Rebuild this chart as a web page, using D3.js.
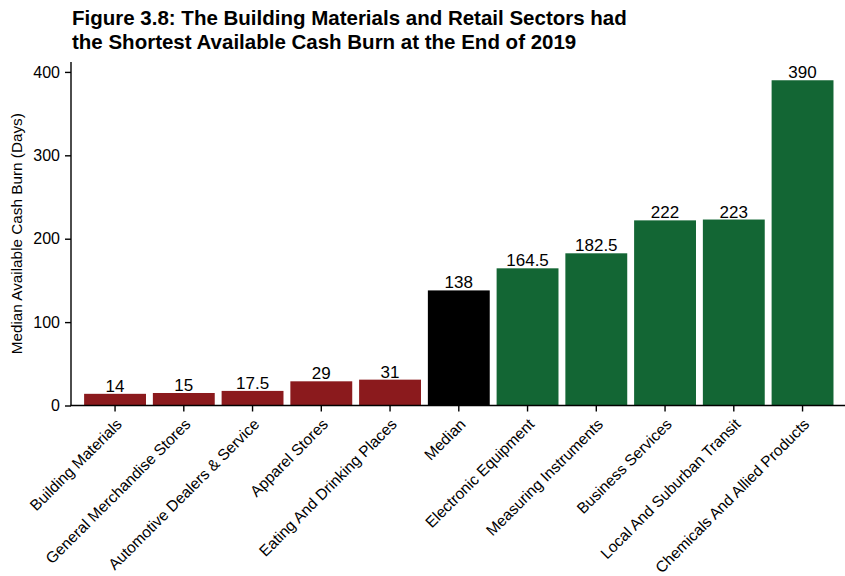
<!DOCTYPE html>
<html>
<head>
<meta charset="utf-8">
<script src="https://cdn.jsdelivr.net/npm/d3@7"></script>
<style>
  html, body { margin: 0; padding: 0; background: #fff; }
  svg { display: block; font-family: "Liberation Sans", Arial, Helvetica, sans-serif; }
</style>
</head>
<body>
<svg id="chart" width="845" height="576"></svg>
<script>
const titleLines = [
  "Figure 3.8: The Building Materials and Retail Sectors had",
  "the Shortest Available Cash Burn at the End of 2019"
];
const yAxisTitle = "Median Available Cash Burn (Days)";
const categories = [
  "Building Materials", "General Merchandise Stores", "Automotive Dealers & Service",
  "Apparel Stores", "Eating And Drinking Places", "Median", "Electronic Equipment",
  "Measuring Instruments", "Business Services", "Local And Suburban Transit",
  "Chemicals And Allied Products"
];
const values = [14, 15, 17.5, 29, 31, 138, 164.5, 182.5, 222, 223, 390];
const groups = ["short", "short", "short", "short", "short", "median", "long", "long", "long", "long", "long"];
const groupNames = ["short", "median", "long"];
const groupColors = ["#8b1a1d", "#000000", "#136634"];
const yTicks = [0, 100, 200, 300, 400];

const data = categories.map((c, i) => ({ cat: c, value: values[i], group: groups[i] }));

const svg = d3.select("#chart");
const axisX0 = 71, axisRight = 845;
const yBottom = 405.5;

const x = d3.scaleBand()
  .domain(categories)
  .range([73.8, 843.8])
  .paddingInner(0.1)
  .paddingOuter(0.15);

const y = d3.scaleLinear()
  .domain([0, 390 * 1.05])
  .range([yBottom, 64]);

const color = d3.scaleOrdinal().domain(groupNames).range(groupColors);

// Title
svg.append("g").selectAll("text")
  .data(titleLines)
  .join("text")
  .attr("x", 72)
  .attr("y", (d, i) => 25 + i * 24)
  .attr("font-size", "20.5px")
  .attr("font-weight", "bold")
  .attr("fill", "#000")
  .text(d => d);

// Bars
svg.append("g").selectAll("rect")
  .data(data)
  .join("rect")
  .attr("x", d => x(d.cat))
  .attr("width", x.bandwidth())
  .attr("y", d => y(d.value))
  .attr("height", d => y(0) - y(d.value))
  .attr("fill", d => color(d.group));

// Value labels
svg.append("g").selectAll("text")
  .data(data)
  .join("text")
  .attr("x", d => x(d.cat) + x.bandwidth() / 2)
  .attr("y", d => y(d.value) - 2)
  .attr("text-anchor", "middle")
  .attr("font-size", "17px")
  .attr("fill", "#000")
  .text(d => String(d.value));

// Y axis
const yAxis = d3.axisLeft(y).tickValues(yTicks).tickSize(6).tickPadding(5).tickSizeOuter(0);
const gy = svg.append("g").attr("transform", `translate(${axisX0},0)`).call(yAxis);
gy.select(".domain").remove();
gy.append("line").attr("x1", 0).attr("x2", 0).attr("y1", 62).attr("y2", yBottom)
  .attr("stroke", "#000").attr("stroke-width", 1.4);
gy.selectAll(".tick line").attr("stroke", "#000").attr("stroke-width", 1.4);
gy.selectAll(".tick text").attr("font-size", "16px").attr("fill", "#000")
  .attr("font-family", "Liberation Sans, Arial, sans-serif");

// X axis
const xAxis = d3.axisBottom(x).tickSize(6).tickSizeOuter(0).tickFormat("");
const gx = svg.append("g").attr("transform", `translate(0,${yBottom})`).call(xAxis);
gx.select(".domain").remove();
gx.append("line").attr("x1", axisX0 - 0.7).attr("x2", axisRight).attr("y1", 0).attr("y2", 0)
  .attr("stroke", "#000").attr("stroke-width", 1.4);
gx.selectAll(".tick line").attr("stroke", "#000").attr("stroke-width", 1.4);

// X labels rotated
svg.append("g").selectAll("text")
  .data(categories)
  .join("text")
  .attr("transform", d => `translate(${x(d) + x.bandwidth() / 2},${yBottom + 12}) rotate(-45)`)
  .attr("x", 0)
  .attr("y", 11)
  .attr("text-anchor", "end")
  .attr("font-size", "15.5px")
  .attr("fill", "#000")
  .text(d => d);

// Y axis title
svg.append("text")
  .attr("transform", `translate(22,${(62 + yBottom) / 2}) rotate(-90)`)
  .attr("text-anchor", "middle")
  .attr("font-size", "15.3px")
  .attr("fill", "#000")
  .text(yAxisTitle);
</script>
</body>
</html>
